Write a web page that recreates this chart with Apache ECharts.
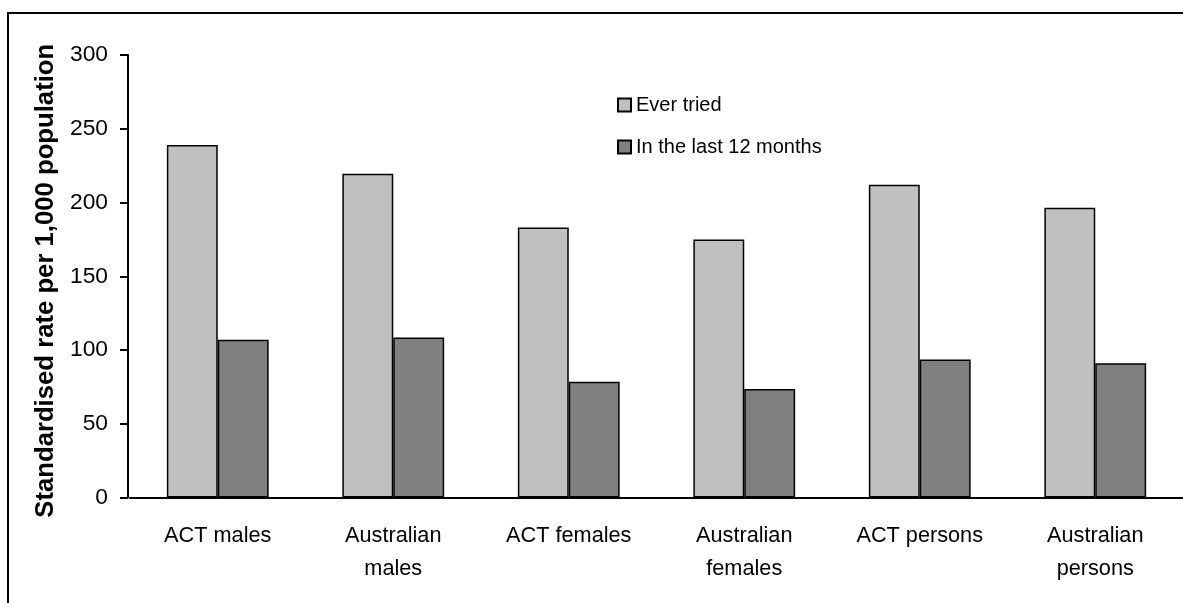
<!DOCTYPE html>
<html>
<head>
<meta charset="utf-8">
<script src="https://cdn.jsdelivr.net/npm/echarts@6/dist/echarts.min.js"></script>
<style>
html,body{margin:0;padding:0;background:#fff;}
#chart{width:1183px;height:603px;}
</style>
</head>
<body>
<div id="chart"></div>
<script>
const categories = ['ACT males', 'Australian\nmales', 'ACT females', 'Australian\nfemales', 'ACT persons', 'Australian\npersons'];
const everTried = [239, 219.5, 183, 175, 212, 196.5];
const last12Months = [107, 108.5, 78.5, 73.5, 93.5, 91];
const seriesNames = ['Ever tried', 'In the last 12 months'];
const yTicks = [0, 50, 100, 150, 200, 250, 300];

const font = '"Liberation Sans", Arial, sans-serif';
const chart = echarts.init(document.getElementById('chart'), null, {renderer: 'canvas'});
chart.setOption({
  animation: false,
  backgroundColor: '#fff',
  graphic: [{
    type: 'rect', z: -1,
    shape: {x: 8, y: 13, width: 1400, height: 800},
    style: {fill: 'none', stroke: '#000', lineWidth: 2}
  }],
  legend: {
    orient: 'vertical',
    left: 617, top: 95, padding: 0,
    itemWidth: 13, itemHeight: 13, itemGap: 22,
    icon: 'rect',
    textStyle: {fontFamily: font, fontSize: 20, color: '#000'},
    data: seriesNames
  },
  grid: {left: 130, right: -1.5, top: 55, bottom: 105.5, containLabel: false},
  xAxis: {
    type: 'category',
    data: categories,
    axisLine: {lineStyle: {color: '#000', width: 2}},
    axisTick: {show: false},
    axisLabel: {fontFamily: font, fontSize: 21.7, color: '#000', lineHeight: 33, margin: 22, interval: 0}
  },
  yAxis: {
    type: 'value',
    offset: 2,
    min: yTicks[0], max: yTicks[yTicks.length - 1], interval: 50,
    name: 'Standardised rate per 1,000 population',
    nameLocation: 'middle', nameGap: 68,
    nameTextStyle: {fontFamily: font, fontSize: 25.7, fontWeight: 'bold', color: '#000', padding: [0, 9, 0, 0]},
    axisLine: {show: true, lineStyle: {color: '#000', width: 2}},
    axisTick: {show: true, length: 8, lineStyle: {color: '#000', width: 2}},
    axisLabel: {fontFamily: font, fontSize: 22.8, color: '#000', margin: 20},
    splitLine: {show: false}
  },
  series: [
    {
      name: seriesNames[0], type: 'bar', data: everTried,
      barGap: '0%', barCategoryGap: '42%',
      itemStyle: {color: '#C0C0C0', borderColor: '#000', borderWidth: 1.5}
    },
    {
      name: seriesNames[1], type: 'bar', data: last12Months,
      itemStyle: {color: '#808080', borderColor: '#000', borderWidth: 1.5}
    }
  ]
});
</script>
</body>
</html>
